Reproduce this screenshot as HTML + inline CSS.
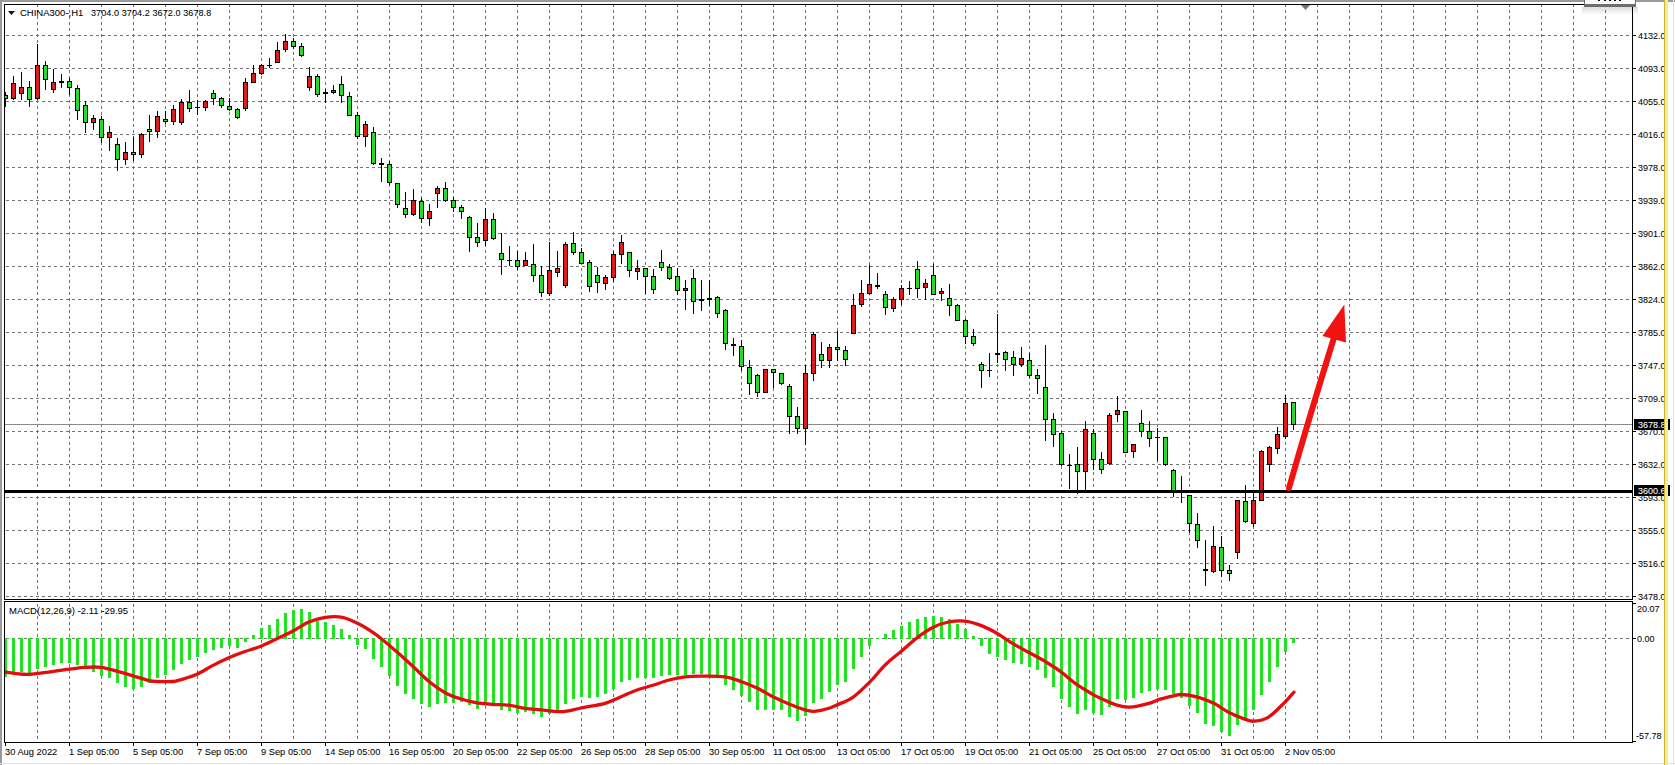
<!DOCTYPE html><html><head><meta charset="utf-8"><style>
html,body{margin:0;padding:0;background:#fff;width:1675px;height:765px;overflow:hidden}
svg{display:block}
text{font-family:"Liberation Sans", sans-serif;font-size:9px;fill:#000;stroke:#000;stroke-width:0.05px}
</style></head><body>
<svg width="1675" height="765" viewBox="0 0 1675 765">
<rect x="0" y="0" width="1675" height="765" fill="#ffffff"/>
<g shape-rendering="crispEdges">
<rect x="0" y="0" width="1675" height="2" fill="#9a9a9a"/>
<rect x="0" y="0" width="2" height="765" fill="#9a9a9a"/>
<rect x="0" y="763" width="1675" height="1" fill="#e4e4e4"/>
<rect x="1673" y="0" width="1" height="765" fill="#e4e4e4"/>
<defs><clipPath id="cm"><rect x="5" y="5" width="1627" height="594"/></clipPath>
<clipPath id="cd"><rect x="5" y="602" width="1627" height="140"/></clipPath>
<clipPath id="ca"><rect x="1633" y="0" width="31" height="765"/></clipPath></defs>
<g clip-path="url(#cm)">
<line x1="37.5" y1="4" x2="37.5" y2="599" stroke="#727272" stroke-width="1" stroke-dasharray="3 3"/>
<line x1="69.5" y1="4" x2="69.5" y2="599" stroke="#727272" stroke-width="1" stroke-dasharray="3 3"/>
<line x1="101.5" y1="4" x2="101.5" y2="599" stroke="#727272" stroke-width="1" stroke-dasharray="3 3"/>
<line x1="133.5" y1="4" x2="133.5" y2="599" stroke="#727272" stroke-width="1" stroke-dasharray="3 3"/>
<line x1="165.5" y1="4" x2="165.5" y2="599" stroke="#727272" stroke-width="1" stroke-dasharray="3 3"/>
<line x1="197.5" y1="4" x2="197.5" y2="599" stroke="#727272" stroke-width="1" stroke-dasharray="3 3"/>
<line x1="229.5" y1="4" x2="229.5" y2="599" stroke="#727272" stroke-width="1" stroke-dasharray="3 3"/>
<line x1="261.5" y1="4" x2="261.5" y2="599" stroke="#727272" stroke-width="1" stroke-dasharray="3 3"/>
<line x1="293.5" y1="4" x2="293.5" y2="599" stroke="#727272" stroke-width="1" stroke-dasharray="3 3"/>
<line x1="325.5" y1="4" x2="325.5" y2="599" stroke="#727272" stroke-width="1" stroke-dasharray="3 3"/>
<line x1="357.5" y1="4" x2="357.5" y2="599" stroke="#727272" stroke-width="1" stroke-dasharray="3 3"/>
<line x1="389.5" y1="4" x2="389.5" y2="599" stroke="#727272" stroke-width="1" stroke-dasharray="3 3"/>
<line x1="421.5" y1="4" x2="421.5" y2="599" stroke="#727272" stroke-width="1" stroke-dasharray="3 3"/>
<line x1="453.5" y1="4" x2="453.5" y2="599" stroke="#727272" stroke-width="1" stroke-dasharray="3 3"/>
<line x1="485.5" y1="4" x2="485.5" y2="599" stroke="#727272" stroke-width="1" stroke-dasharray="3 3"/>
<line x1="517.5" y1="4" x2="517.5" y2="599" stroke="#727272" stroke-width="1" stroke-dasharray="3 3"/>
<line x1="549.5" y1="4" x2="549.5" y2="599" stroke="#727272" stroke-width="1" stroke-dasharray="3 3"/>
<line x1="581.5" y1="4" x2="581.5" y2="599" stroke="#727272" stroke-width="1" stroke-dasharray="3 3"/>
<line x1="613.5" y1="4" x2="613.5" y2="599" stroke="#727272" stroke-width="1" stroke-dasharray="3 3"/>
<line x1="645.5" y1="4" x2="645.5" y2="599" stroke="#727272" stroke-width="1" stroke-dasharray="3 3"/>
<line x1="677.5" y1="4" x2="677.5" y2="599" stroke="#727272" stroke-width="1" stroke-dasharray="3 3"/>
<line x1="709.5" y1="4" x2="709.5" y2="599" stroke="#727272" stroke-width="1" stroke-dasharray="3 3"/>
<line x1="741.5" y1="4" x2="741.5" y2="599" stroke="#727272" stroke-width="1" stroke-dasharray="3 3"/>
<line x1="773.5" y1="4" x2="773.5" y2="599" stroke="#727272" stroke-width="1" stroke-dasharray="3 3"/>
<line x1="805.5" y1="4" x2="805.5" y2="599" stroke="#727272" stroke-width="1" stroke-dasharray="3 3"/>
<line x1="837.5" y1="4" x2="837.5" y2="599" stroke="#727272" stroke-width="1" stroke-dasharray="3 3"/>
<line x1="869.5" y1="4" x2="869.5" y2="599" stroke="#727272" stroke-width="1" stroke-dasharray="3 3"/>
<line x1="901.5" y1="4" x2="901.5" y2="599" stroke="#727272" stroke-width="1" stroke-dasharray="3 3"/>
<line x1="933.5" y1="4" x2="933.5" y2="599" stroke="#727272" stroke-width="1" stroke-dasharray="3 3"/>
<line x1="965.5" y1="4" x2="965.5" y2="599" stroke="#727272" stroke-width="1" stroke-dasharray="3 3"/>
<line x1="997.5" y1="4" x2="997.5" y2="599" stroke="#727272" stroke-width="1" stroke-dasharray="3 3"/>
<line x1="1029.5" y1="4" x2="1029.5" y2="599" stroke="#727272" stroke-width="1" stroke-dasharray="3 3"/>
<line x1="1061.5" y1="4" x2="1061.5" y2="599" stroke="#727272" stroke-width="1" stroke-dasharray="3 3"/>
<line x1="1093.5" y1="4" x2="1093.5" y2="599" stroke="#727272" stroke-width="1" stroke-dasharray="3 3"/>
<line x1="1125.5" y1="4" x2="1125.5" y2="599" stroke="#727272" stroke-width="1" stroke-dasharray="3 3"/>
<line x1="1157.5" y1="4" x2="1157.5" y2="599" stroke="#727272" stroke-width="1" stroke-dasharray="3 3"/>
<line x1="1189.5" y1="4" x2="1189.5" y2="599" stroke="#727272" stroke-width="1" stroke-dasharray="3 3"/>
<line x1="1221.5" y1="4" x2="1221.5" y2="599" stroke="#727272" stroke-width="1" stroke-dasharray="3 3"/>
<line x1="1253.5" y1="4" x2="1253.5" y2="599" stroke="#727272" stroke-width="1" stroke-dasharray="3 3"/>
<line x1="1285.5" y1="4" x2="1285.5" y2="599" stroke="#727272" stroke-width="1" stroke-dasharray="3 3"/>
<line x1="1317.5" y1="4" x2="1317.5" y2="599" stroke="#727272" stroke-width="1" stroke-dasharray="3 3"/>
<line x1="1349.5" y1="4" x2="1349.5" y2="599" stroke="#727272" stroke-width="1" stroke-dasharray="3 3"/>
<line x1="1381.5" y1="4" x2="1381.5" y2="599" stroke="#727272" stroke-width="1" stroke-dasharray="3 3"/>
<line x1="1413.5" y1="4" x2="1413.5" y2="599" stroke="#727272" stroke-width="1" stroke-dasharray="3 3"/>
<line x1="1445.5" y1="4" x2="1445.5" y2="599" stroke="#727272" stroke-width="1" stroke-dasharray="3 3"/>
<line x1="1477.5" y1="4" x2="1477.5" y2="599" stroke="#727272" stroke-width="1" stroke-dasharray="3 3"/>
<line x1="1509.5" y1="4" x2="1509.5" y2="599" stroke="#727272" stroke-width="1" stroke-dasharray="3 3"/>
<line x1="1541.5" y1="4" x2="1541.5" y2="599" stroke="#727272" stroke-width="1" stroke-dasharray="3 3"/>
<line x1="1573.5" y1="4" x2="1573.5" y2="599" stroke="#727272" stroke-width="1" stroke-dasharray="3 3"/>
<line x1="1605.5" y1="4" x2="1605.5" y2="599" stroke="#727272" stroke-width="1" stroke-dasharray="3 3"/>
<line x1="0" y1="35.5" x2="1632" y2="35.5" stroke="#727272" stroke-width="1" stroke-dasharray="3 3"/>
<line x1="0" y1="68.5" x2="1632" y2="68.5" stroke="#727272" stroke-width="1" stroke-dasharray="3 3"/>
<line x1="0" y1="101.5" x2="1632" y2="101.5" stroke="#727272" stroke-width="1" stroke-dasharray="3 3"/>
<line x1="0" y1="134.5" x2="1632" y2="134.5" stroke="#727272" stroke-width="1" stroke-dasharray="3 3"/>
<line x1="0" y1="167.5" x2="1632" y2="167.5" stroke="#727272" stroke-width="1" stroke-dasharray="3 3"/>
<line x1="0" y1="200.5" x2="1632" y2="200.5" stroke="#727272" stroke-width="1" stroke-dasharray="3 3"/>
<line x1="0" y1="233.5" x2="1632" y2="233.5" stroke="#727272" stroke-width="1" stroke-dasharray="3 3"/>
<line x1="0" y1="266.5" x2="1632" y2="266.5" stroke="#727272" stroke-width="1" stroke-dasharray="3 3"/>
<line x1="0" y1="299.5" x2="1632" y2="299.5" stroke="#727272" stroke-width="1" stroke-dasharray="3 3"/>
<line x1="0" y1="332.5" x2="1632" y2="332.5" stroke="#727272" stroke-width="1" stroke-dasharray="3 3"/>
<line x1="0" y1="365.5" x2="1632" y2="365.5" stroke="#727272" stroke-width="1" stroke-dasharray="3 3"/>
<line x1="0" y1="398.5" x2="1632" y2="398.5" stroke="#727272" stroke-width="1" stroke-dasharray="3 3"/>
<line x1="0" y1="431.5" x2="1632" y2="431.5" stroke="#727272" stroke-width="1" stroke-dasharray="3 3"/>
<line x1="0" y1="464.5" x2="1632" y2="464.5" stroke="#727272" stroke-width="1" stroke-dasharray="3 3"/>
<line x1="0" y1="497.5" x2="1632" y2="497.5" stroke="#727272" stroke-width="1" stroke-dasharray="3 3"/>
<line x1="0" y1="530.5" x2="1632" y2="530.5" stroke="#727272" stroke-width="1" stroke-dasharray="3 3"/>
<line x1="0" y1="563.5" x2="1632" y2="563.5" stroke="#727272" stroke-width="1" stroke-dasharray="3 3"/>
<line x1="0" y1="596.5" x2="1632" y2="596.5" stroke="#727272" stroke-width="1" stroke-dasharray="3 3"/>
</g>
<g clip-path="url(#cd)">
<line x1="37.5" y1="592" x2="37.5" y2="742" stroke="#727272" stroke-width="1" stroke-dasharray="3 3"/>
<line x1="69.5" y1="592" x2="69.5" y2="742" stroke="#727272" stroke-width="1" stroke-dasharray="3 3"/>
<line x1="101.5" y1="592" x2="101.5" y2="742" stroke="#727272" stroke-width="1" stroke-dasharray="3 3"/>
<line x1="133.5" y1="592" x2="133.5" y2="742" stroke="#727272" stroke-width="1" stroke-dasharray="3 3"/>
<line x1="165.5" y1="592" x2="165.5" y2="742" stroke="#727272" stroke-width="1" stroke-dasharray="3 3"/>
<line x1="197.5" y1="592" x2="197.5" y2="742" stroke="#727272" stroke-width="1" stroke-dasharray="3 3"/>
<line x1="229.5" y1="592" x2="229.5" y2="742" stroke="#727272" stroke-width="1" stroke-dasharray="3 3"/>
<line x1="261.5" y1="592" x2="261.5" y2="742" stroke="#727272" stroke-width="1" stroke-dasharray="3 3"/>
<line x1="293.5" y1="592" x2="293.5" y2="742" stroke="#727272" stroke-width="1" stroke-dasharray="3 3"/>
<line x1="325.5" y1="592" x2="325.5" y2="742" stroke="#727272" stroke-width="1" stroke-dasharray="3 3"/>
<line x1="357.5" y1="592" x2="357.5" y2="742" stroke="#727272" stroke-width="1" stroke-dasharray="3 3"/>
<line x1="389.5" y1="592" x2="389.5" y2="742" stroke="#727272" stroke-width="1" stroke-dasharray="3 3"/>
<line x1="421.5" y1="592" x2="421.5" y2="742" stroke="#727272" stroke-width="1" stroke-dasharray="3 3"/>
<line x1="453.5" y1="592" x2="453.5" y2="742" stroke="#727272" stroke-width="1" stroke-dasharray="3 3"/>
<line x1="485.5" y1="592" x2="485.5" y2="742" stroke="#727272" stroke-width="1" stroke-dasharray="3 3"/>
<line x1="517.5" y1="592" x2="517.5" y2="742" stroke="#727272" stroke-width="1" stroke-dasharray="3 3"/>
<line x1="549.5" y1="592" x2="549.5" y2="742" stroke="#727272" stroke-width="1" stroke-dasharray="3 3"/>
<line x1="581.5" y1="592" x2="581.5" y2="742" stroke="#727272" stroke-width="1" stroke-dasharray="3 3"/>
<line x1="613.5" y1="592" x2="613.5" y2="742" stroke="#727272" stroke-width="1" stroke-dasharray="3 3"/>
<line x1="645.5" y1="592" x2="645.5" y2="742" stroke="#727272" stroke-width="1" stroke-dasharray="3 3"/>
<line x1="677.5" y1="592" x2="677.5" y2="742" stroke="#727272" stroke-width="1" stroke-dasharray="3 3"/>
<line x1="709.5" y1="592" x2="709.5" y2="742" stroke="#727272" stroke-width="1" stroke-dasharray="3 3"/>
<line x1="741.5" y1="592" x2="741.5" y2="742" stroke="#727272" stroke-width="1" stroke-dasharray="3 3"/>
<line x1="773.5" y1="592" x2="773.5" y2="742" stroke="#727272" stroke-width="1" stroke-dasharray="3 3"/>
<line x1="805.5" y1="592" x2="805.5" y2="742" stroke="#727272" stroke-width="1" stroke-dasharray="3 3"/>
<line x1="837.5" y1="592" x2="837.5" y2="742" stroke="#727272" stroke-width="1" stroke-dasharray="3 3"/>
<line x1="869.5" y1="592" x2="869.5" y2="742" stroke="#727272" stroke-width="1" stroke-dasharray="3 3"/>
<line x1="901.5" y1="592" x2="901.5" y2="742" stroke="#727272" stroke-width="1" stroke-dasharray="3 3"/>
<line x1="933.5" y1="592" x2="933.5" y2="742" stroke="#727272" stroke-width="1" stroke-dasharray="3 3"/>
<line x1="965.5" y1="592" x2="965.5" y2="742" stroke="#727272" stroke-width="1" stroke-dasharray="3 3"/>
<line x1="997.5" y1="592" x2="997.5" y2="742" stroke="#727272" stroke-width="1" stroke-dasharray="3 3"/>
<line x1="1029.5" y1="592" x2="1029.5" y2="742" stroke="#727272" stroke-width="1" stroke-dasharray="3 3"/>
<line x1="1061.5" y1="592" x2="1061.5" y2="742" stroke="#727272" stroke-width="1" stroke-dasharray="3 3"/>
<line x1="1093.5" y1="592" x2="1093.5" y2="742" stroke="#727272" stroke-width="1" stroke-dasharray="3 3"/>
<line x1="1125.5" y1="592" x2="1125.5" y2="742" stroke="#727272" stroke-width="1" stroke-dasharray="3 3"/>
<line x1="1157.5" y1="592" x2="1157.5" y2="742" stroke="#727272" stroke-width="1" stroke-dasharray="3 3"/>
<line x1="1189.5" y1="592" x2="1189.5" y2="742" stroke="#727272" stroke-width="1" stroke-dasharray="3 3"/>
<line x1="1221.5" y1="592" x2="1221.5" y2="742" stroke="#727272" stroke-width="1" stroke-dasharray="3 3"/>
<line x1="1253.5" y1="592" x2="1253.5" y2="742" stroke="#727272" stroke-width="1" stroke-dasharray="3 3"/>
<line x1="1285.5" y1="592" x2="1285.5" y2="742" stroke="#727272" stroke-width="1" stroke-dasharray="3 3"/>
<line x1="1317.5" y1="592" x2="1317.5" y2="742" stroke="#727272" stroke-width="1" stroke-dasharray="3 3"/>
<line x1="1349.5" y1="592" x2="1349.5" y2="742" stroke="#727272" stroke-width="1" stroke-dasharray="3 3"/>
<line x1="1381.5" y1="592" x2="1381.5" y2="742" stroke="#727272" stroke-width="1" stroke-dasharray="3 3"/>
<line x1="1413.5" y1="592" x2="1413.5" y2="742" stroke="#727272" stroke-width="1" stroke-dasharray="3 3"/>
<line x1="1445.5" y1="592" x2="1445.5" y2="742" stroke="#727272" stroke-width="1" stroke-dasharray="3 3"/>
<line x1="1477.5" y1="592" x2="1477.5" y2="742" stroke="#727272" stroke-width="1" stroke-dasharray="3 3"/>
<line x1="1509.5" y1="592" x2="1509.5" y2="742" stroke="#727272" stroke-width="1" stroke-dasharray="3 3"/>
<line x1="1541.5" y1="592" x2="1541.5" y2="742" stroke="#727272" stroke-width="1" stroke-dasharray="3 3"/>
<line x1="1573.5" y1="592" x2="1573.5" y2="742" stroke="#727272" stroke-width="1" stroke-dasharray="3 3"/>
<line x1="1605.5" y1="592" x2="1605.5" y2="742" stroke="#727272" stroke-width="1" stroke-dasharray="3 3"/>
<line x1="0" y1="638.5" x2="1632" y2="638.5" stroke="#727272" stroke-width="1" stroke-dasharray="3 3"/>
</g>
<rect x="5" y="424" width="1627" height="1" fill="#8a8a8a"/>
<g clip-path="url(#cm)">
<rect x="5" y="92" width="1" height="15" fill="#000"/>
<rect x="3" y="95" width="5" height="4" fill="#000"/>
<rect x="4" y="96" width="3" height="2" fill="#24e024"/>
<rect x="13" y="76" width="1" height="24" fill="#000"/>
<rect x="11" y="83" width="5" height="16" fill="#000"/>
<rect x="12" y="84" width="3" height="14" fill="#e11a1a"/>
<rect x="21" y="72" width="1" height="28" fill="#000"/>
<rect x="19" y="87" width="5" height="7" fill="#000"/>
<rect x="20" y="88" width="3" height="5" fill="#e11a1a"/>
<rect x="29" y="81" width="1" height="26" fill="#000"/>
<rect x="27" y="87" width="5" height="13" fill="#000"/>
<rect x="28" y="88" width="3" height="11" fill="#24e024"/>
<rect x="37" y="44" width="1" height="56" fill="#000"/>
<rect x="35" y="65" width="5" height="34" fill="#000"/>
<rect x="36" y="66" width="3" height="32" fill="#e11a1a"/>
<rect x="45" y="61" width="1" height="29" fill="#000"/>
<rect x="43" y="65" width="5" height="15" fill="#000"/>
<rect x="44" y="66" width="3" height="13" fill="#24e024"/>
<rect x="53" y="69" width="1" height="24" fill="#000"/>
<rect x="51" y="82" width="5" height="8" fill="#000"/>
<rect x="52" y="83" width="3" height="6" fill="#e11a1a"/>
<rect x="61" y="74" width="1" height="14" fill="#000"/>
<rect x="59" y="81" width="5" height="2" fill="#000"/>
<rect x="69" y="78" width="1" height="17" fill="#000"/>
<rect x="67" y="81" width="5" height="7" fill="#000"/>
<rect x="68" y="82" width="3" height="5" fill="#24e024"/>
<rect x="77" y="85" width="1" height="35" fill="#000"/>
<rect x="75" y="88" width="5" height="23" fill="#000"/>
<rect x="76" y="89" width="3" height="21" fill="#24e024"/>
<rect x="85" y="101" width="1" height="32" fill="#000"/>
<rect x="83" y="105" width="5" height="18" fill="#000"/>
<rect x="84" y="106" width="3" height="16" fill="#24e024"/>
<rect x="93" y="115" width="1" height="15" fill="#000"/>
<rect x="91" y="118" width="5" height="5" fill="#000"/>
<rect x="92" y="119" width="3" height="3" fill="#e11a1a"/>
<rect x="101" y="116" width="1" height="27" fill="#000"/>
<rect x="99" y="119" width="5" height="19" fill="#000"/>
<rect x="100" y="120" width="3" height="17" fill="#24e024"/>
<rect x="109" y="126" width="1" height="25" fill="#000"/>
<rect x="107" y="132" width="5" height="6" fill="#000"/>
<rect x="108" y="133" width="3" height="4" fill="#e11a1a"/>
<rect x="117" y="138" width="1" height="33" fill="#000"/>
<rect x="115" y="144" width="5" height="16" fill="#000"/>
<rect x="116" y="145" width="3" height="14" fill="#24e024"/>
<rect x="125" y="142" width="1" height="23" fill="#000"/>
<rect x="123" y="152" width="5" height="8" fill="#000"/>
<rect x="124" y="153" width="3" height="6" fill="#e11a1a"/>
<rect x="133" y="137" width="1" height="24" fill="#000"/>
<rect x="131" y="152" width="5" height="3" fill="#000"/>
<rect x="132" y="153" width="3" height="1" fill="#24e024"/>
<rect x="141" y="133" width="1" height="25" fill="#000"/>
<rect x="139" y="134" width="5" height="21" fill="#000"/>
<rect x="140" y="135" width="3" height="19" fill="#e11a1a"/>
<rect x="149" y="115" width="1" height="27" fill="#000"/>
<rect x="147" y="129" width="5" height="3" fill="#000"/>
<rect x="148" y="130" width="3" height="1" fill="#24e024"/>
<rect x="157" y="111" width="1" height="27" fill="#000"/>
<rect x="155" y="116" width="5" height="16" fill="#000"/>
<rect x="156" y="117" width="3" height="14" fill="#e11a1a"/>
<rect x="165" y="111" width="1" height="13" fill="#000"/>
<rect x="163" y="119" width="5" height="3" fill="#000"/>
<rect x="164" y="120" width="3" height="1" fill="#24e024"/>
<rect x="173" y="105" width="1" height="20" fill="#000"/>
<rect x="171" y="109" width="5" height="13" fill="#000"/>
<rect x="172" y="110" width="3" height="11" fill="#e11a1a"/>
<rect x="181" y="99" width="1" height="26" fill="#000"/>
<rect x="179" y="102" width="5" height="21" fill="#000"/>
<rect x="180" y="103" width="3" height="19" fill="#e11a1a"/>
<rect x="189" y="90" width="1" height="22" fill="#000"/>
<rect x="187" y="102" width="5" height="7" fill="#000"/>
<rect x="188" y="103" width="3" height="5" fill="#24e024"/>
<rect x="197" y="100" width="1" height="15" fill="#000"/>
<rect x="195" y="107" width="5" height="1" fill="#000"/>
<rect x="205" y="100" width="1" height="11" fill="#000"/>
<rect x="203" y="101" width="5" height="7" fill="#000"/>
<rect x="204" y="102" width="3" height="5" fill="#e11a1a"/>
<rect x="213" y="90" width="1" height="15" fill="#000"/>
<rect x="211" y="93" width="5" height="6" fill="#000"/>
<rect x="212" y="94" width="3" height="4" fill="#24e024"/>
<rect x="221" y="97" width="1" height="11" fill="#000"/>
<rect x="219" y="98" width="5" height="8" fill="#000"/>
<rect x="220" y="99" width="3" height="6" fill="#24e024"/>
<rect x="229" y="98" width="1" height="13" fill="#000"/>
<rect x="227" y="106" width="5" height="4" fill="#000"/>
<rect x="228" y="107" width="3" height="2" fill="#24e024"/>
<rect x="237" y="108" width="1" height="11" fill="#000"/>
<rect x="235" y="109" width="5" height="9" fill="#000"/>
<rect x="236" y="110" width="3" height="7" fill="#24e024"/>
<rect x="245" y="78" width="1" height="33" fill="#000"/>
<rect x="243" y="82" width="5" height="27" fill="#000"/>
<rect x="244" y="83" width="3" height="25" fill="#e11a1a"/>
<rect x="253" y="65" width="1" height="18" fill="#000"/>
<rect x="251" y="73" width="5" height="10" fill="#000"/>
<rect x="252" y="74" width="3" height="8" fill="#e11a1a"/>
<rect x="261" y="64" width="1" height="11" fill="#000"/>
<rect x="259" y="65" width="5" height="9" fill="#000"/>
<rect x="260" y="66" width="3" height="7" fill="#e11a1a"/>
<rect x="269" y="58" width="1" height="10" fill="#000"/>
<rect x="267" y="65" width="5" height="1" fill="#000"/>
<rect x="277" y="42" width="1" height="21" fill="#000"/>
<rect x="275" y="50" width="5" height="13" fill="#000"/>
<rect x="276" y="51" width="3" height="11" fill="#e11a1a"/>
<rect x="285" y="34" width="1" height="18" fill="#000"/>
<rect x="283" y="41" width="5" height="9" fill="#000"/>
<rect x="284" y="42" width="3" height="7" fill="#e11a1a"/>
<rect x="293" y="38" width="1" height="11" fill="#000"/>
<rect x="291" y="41" width="5" height="6" fill="#000"/>
<rect x="292" y="42" width="3" height="4" fill="#24e024"/>
<rect x="301" y="43" width="1" height="14" fill="#000"/>
<rect x="299" y="46" width="5" height="10" fill="#000"/>
<rect x="300" y="47" width="3" height="8" fill="#24e024"/>
<rect x="309" y="67" width="1" height="24" fill="#000"/>
<rect x="307" y="76" width="5" height="12" fill="#000"/>
<rect x="308" y="77" width="3" height="10" fill="#e11a1a"/>
<rect x="317" y="74" width="1" height="23" fill="#000"/>
<rect x="315" y="76" width="5" height="19" fill="#000"/>
<rect x="316" y="77" width="3" height="17" fill="#24e024"/>
<rect x="325" y="89" width="1" height="14" fill="#000"/>
<rect x="323" y="92" width="5" height="2" fill="#000"/>
<rect x="333" y="85" width="1" height="9" fill="#000"/>
<rect x="331" y="90" width="5" height="3" fill="#000"/>
<rect x="332" y="91" width="3" height="1" fill="#e11a1a"/>
<rect x="341" y="76" width="1" height="27" fill="#000"/>
<rect x="339" y="84" width="5" height="12" fill="#000"/>
<rect x="340" y="85" width="3" height="10" fill="#24e024"/>
<rect x="349" y="92" width="1" height="24" fill="#000"/>
<rect x="347" y="96" width="5" height="20" fill="#000"/>
<rect x="348" y="97" width="3" height="18" fill="#24e024"/>
<rect x="357" y="112" width="1" height="27" fill="#000"/>
<rect x="355" y="115" width="5" height="22" fill="#000"/>
<rect x="356" y="116" width="3" height="20" fill="#24e024"/>
<rect x="365" y="121" width="1" height="26" fill="#000"/>
<rect x="363" y="124" width="5" height="13" fill="#000"/>
<rect x="364" y="125" width="3" height="11" fill="#e11a1a"/>
<rect x="373" y="127" width="1" height="38" fill="#000"/>
<rect x="371" y="132" width="5" height="32" fill="#000"/>
<rect x="372" y="133" width="3" height="30" fill="#24e024"/>
<rect x="381" y="158" width="1" height="24" fill="#000"/>
<rect x="379" y="163" width="5" height="2" fill="#000"/>
<rect x="389" y="161" width="1" height="24" fill="#000"/>
<rect x="387" y="164" width="5" height="19" fill="#000"/>
<rect x="388" y="165" width="3" height="17" fill="#24e024"/>
<rect x="397" y="183" width="1" height="25" fill="#000"/>
<rect x="395" y="183" width="5" height="22" fill="#000"/>
<rect x="396" y="184" width="3" height="20" fill="#24e024"/>
<rect x="405" y="192" width="1" height="26" fill="#000"/>
<rect x="403" y="208" width="5" height="7" fill="#000"/>
<rect x="404" y="209" width="3" height="5" fill="#24e024"/>
<rect x="413" y="189" width="1" height="27" fill="#000"/>
<rect x="411" y="200" width="5" height="15" fill="#000"/>
<rect x="412" y="201" width="3" height="13" fill="#e11a1a"/>
<rect x="421" y="198" width="1" height="25" fill="#000"/>
<rect x="419" y="201" width="5" height="18" fill="#000"/>
<rect x="420" y="202" width="3" height="16" fill="#24e024"/>
<rect x="429" y="204" width="1" height="22" fill="#000"/>
<rect x="427" y="211" width="5" height="8" fill="#000"/>
<rect x="428" y="212" width="3" height="6" fill="#e11a1a"/>
<rect x="437" y="186" width="1" height="22" fill="#000"/>
<rect x="435" y="188" width="5" height="6" fill="#000"/>
<rect x="436" y="189" width="3" height="4" fill="#e11a1a"/>
<rect x="445" y="182" width="1" height="20" fill="#000"/>
<rect x="443" y="188" width="5" height="13" fill="#000"/>
<rect x="444" y="189" width="3" height="11" fill="#24e024"/>
<rect x="453" y="197" width="1" height="15" fill="#000"/>
<rect x="451" y="200" width="5" height="8" fill="#000"/>
<rect x="452" y="201" width="3" height="6" fill="#24e024"/>
<rect x="461" y="205" width="1" height="14" fill="#000"/>
<rect x="459" y="207" width="5" height="5" fill="#000"/>
<rect x="460" y="208" width="3" height="3" fill="#24e024"/>
<rect x="469" y="216" width="1" height="36" fill="#000"/>
<rect x="467" y="217" width="5" height="21" fill="#000"/>
<rect x="468" y="218" width="3" height="19" fill="#24e024"/>
<rect x="477" y="223" width="1" height="24" fill="#000"/>
<rect x="475" y="237" width="5" height="6" fill="#000"/>
<rect x="476" y="238" width="3" height="4" fill="#24e024"/>
<rect x="485" y="208" width="1" height="38" fill="#000"/>
<rect x="483" y="219" width="5" height="22" fill="#000"/>
<rect x="484" y="220" width="3" height="20" fill="#e11a1a"/>
<rect x="493" y="213" width="1" height="27" fill="#000"/>
<rect x="491" y="219" width="5" height="20" fill="#000"/>
<rect x="492" y="220" width="3" height="18" fill="#24e024"/>
<rect x="501" y="233" width="1" height="42" fill="#000"/>
<rect x="499" y="253" width="5" height="7" fill="#000"/>
<rect x="500" y="254" width="3" height="5" fill="#24e024"/>
<rect x="509" y="246" width="1" height="20" fill="#000"/>
<rect x="507" y="260" width="5" height="1" fill="#000"/>
<rect x="517" y="251" width="1" height="19" fill="#000"/>
<rect x="515" y="260" width="5" height="7" fill="#000"/>
<rect x="516" y="261" width="3" height="5" fill="#24e024"/>
<rect x="525" y="252" width="1" height="14" fill="#000"/>
<rect x="523" y="260" width="5" height="6" fill="#000"/>
<rect x="524" y="261" width="3" height="4" fill="#e11a1a"/>
<rect x="533" y="244" width="1" height="38" fill="#000"/>
<rect x="531" y="264" width="5" height="12" fill="#000"/>
<rect x="532" y="265" width="3" height="10" fill="#24e024"/>
<rect x="541" y="266" width="1" height="31" fill="#000"/>
<rect x="539" y="275" width="5" height="18" fill="#000"/>
<rect x="540" y="276" width="3" height="16" fill="#24e024"/>
<rect x="549" y="242" width="1" height="54" fill="#000"/>
<rect x="547" y="270" width="5" height="24" fill="#000"/>
<rect x="548" y="271" width="3" height="22" fill="#e11a1a"/>
<rect x="557" y="251" width="1" height="26" fill="#000"/>
<rect x="555" y="268" width="5" height="5" fill="#000"/>
<rect x="556" y="269" width="3" height="3" fill="#e11a1a"/>
<rect x="565" y="242" width="1" height="46" fill="#000"/>
<rect x="563" y="244" width="5" height="42" fill="#000"/>
<rect x="564" y="245" width="3" height="40" fill="#e11a1a"/>
<rect x="573" y="232" width="1" height="23" fill="#000"/>
<rect x="571" y="243" width="5" height="10" fill="#000"/>
<rect x="572" y="244" width="3" height="8" fill="#24e024"/>
<rect x="581" y="248" width="1" height="16" fill="#000"/>
<rect x="579" y="252" width="5" height="12" fill="#000"/>
<rect x="580" y="253" width="3" height="10" fill="#24e024"/>
<rect x="589" y="260" width="1" height="32" fill="#000"/>
<rect x="587" y="262" width="5" height="25" fill="#000"/>
<rect x="588" y="263" width="3" height="23" fill="#24e024"/>
<rect x="597" y="267" width="1" height="26" fill="#000"/>
<rect x="595" y="275" width="5" height="8" fill="#000"/>
<rect x="596" y="276" width="3" height="6" fill="#24e024"/>
<rect x="605" y="275" width="1" height="15" fill="#000"/>
<rect x="603" y="277" width="5" height="7" fill="#000"/>
<rect x="604" y="278" width="3" height="5" fill="#e11a1a"/>
<rect x="613" y="251" width="1" height="31" fill="#000"/>
<rect x="611" y="254" width="5" height="24" fill="#000"/>
<rect x="612" y="255" width="3" height="22" fill="#e11a1a"/>
<rect x="621" y="235" width="1" height="29" fill="#000"/>
<rect x="619" y="242" width="5" height="13" fill="#000"/>
<rect x="620" y="243" width="3" height="11" fill="#e11a1a"/>
<rect x="629" y="252" width="1" height="25" fill="#000"/>
<rect x="627" y="252" width="5" height="19" fill="#000"/>
<rect x="628" y="253" width="3" height="17" fill="#24e024"/>
<rect x="637" y="260" width="1" height="20" fill="#000"/>
<rect x="635" y="268" width="5" height="4" fill="#000"/>
<rect x="636" y="269" width="3" height="2" fill="#e11a1a"/>
<rect x="645" y="268" width="1" height="26" fill="#000"/>
<rect x="643" y="268" width="5" height="9" fill="#000"/>
<rect x="644" y="269" width="3" height="7" fill="#24e024"/>
<rect x="653" y="269" width="1" height="25" fill="#000"/>
<rect x="651" y="276" width="5" height="14" fill="#000"/>
<rect x="652" y="277" width="3" height="12" fill="#24e024"/>
<rect x="661" y="250" width="1" height="21" fill="#000"/>
<rect x="659" y="262" width="5" height="6" fill="#000"/>
<rect x="660" y="263" width="3" height="4" fill="#24e024"/>
<rect x="669" y="264" width="1" height="16" fill="#000"/>
<rect x="667" y="267" width="5" height="12" fill="#000"/>
<rect x="668" y="268" width="3" height="10" fill="#24e024"/>
<rect x="677" y="268" width="1" height="27" fill="#000"/>
<rect x="675" y="276" width="5" height="15" fill="#000"/>
<rect x="676" y="277" width="3" height="13" fill="#24e024"/>
<rect x="685" y="280" width="1" height="30" fill="#000"/>
<rect x="683" y="288" width="5" height="3" fill="#000"/>
<rect x="684" y="289" width="3" height="1" fill="#e11a1a"/>
<rect x="693" y="269" width="1" height="45" fill="#000"/>
<rect x="691" y="278" width="5" height="24" fill="#000"/>
<rect x="692" y="279" width="3" height="22" fill="#24e024"/>
<rect x="701" y="280" width="1" height="31" fill="#000"/>
<rect x="699" y="299" width="5" height="2" fill="#000"/>
<rect x="709" y="280" width="1" height="26" fill="#000"/>
<rect x="707" y="298" width="5" height="2" fill="#000"/>
<rect x="717" y="296" width="1" height="22" fill="#000"/>
<rect x="715" y="297" width="5" height="17" fill="#000"/>
<rect x="716" y="298" width="3" height="15" fill="#24e024"/>
<rect x="725" y="309" width="1" height="41" fill="#000"/>
<rect x="723" y="310" width="5" height="34" fill="#000"/>
<rect x="724" y="311" width="3" height="32" fill="#24e024"/>
<rect x="733" y="338" width="1" height="18" fill="#000"/>
<rect x="731" y="344" width="5" height="2" fill="#000"/>
<rect x="741" y="340" width="1" height="31" fill="#000"/>
<rect x="739" y="346" width="5" height="21" fill="#000"/>
<rect x="740" y="347" width="3" height="19" fill="#24e024"/>
<rect x="749" y="360" width="1" height="35" fill="#000"/>
<rect x="747" y="367" width="5" height="17" fill="#000"/>
<rect x="748" y="368" width="3" height="15" fill="#24e024"/>
<rect x="757" y="374" width="1" height="23" fill="#000"/>
<rect x="755" y="375" width="5" height="18" fill="#000"/>
<rect x="756" y="376" width="3" height="16" fill="#24e024"/>
<rect x="765" y="369" width="1" height="24" fill="#000"/>
<rect x="763" y="369" width="5" height="24" fill="#000"/>
<rect x="764" y="370" width="3" height="22" fill="#e11a1a"/>
<rect x="773" y="369" width="1" height="19" fill="#000"/>
<rect x="771" y="369" width="5" height="4" fill="#000"/>
<rect x="772" y="370" width="3" height="2" fill="#24e024"/>
<rect x="781" y="373" width="1" height="12" fill="#000"/>
<rect x="779" y="373" width="5" height="11" fill="#000"/>
<rect x="780" y="374" width="3" height="9" fill="#24e024"/>
<rect x="789" y="384" width="1" height="50" fill="#000"/>
<rect x="787" y="386" width="5" height="31" fill="#000"/>
<rect x="788" y="387" width="3" height="29" fill="#24e024"/>
<rect x="797" y="407" width="1" height="27" fill="#000"/>
<rect x="795" y="416" width="5" height="13" fill="#000"/>
<rect x="796" y="417" width="3" height="11" fill="#24e024"/>
<rect x="805" y="365" width="1" height="80" fill="#000"/>
<rect x="803" y="373" width="5" height="56" fill="#000"/>
<rect x="804" y="374" width="3" height="54" fill="#e11a1a"/>
<rect x="813" y="332" width="1" height="49" fill="#000"/>
<rect x="811" y="334" width="5" height="40" fill="#000"/>
<rect x="812" y="335" width="3" height="38" fill="#e11a1a"/>
<rect x="821" y="342" width="1" height="26" fill="#000"/>
<rect x="819" y="354" width="5" height="7" fill="#000"/>
<rect x="820" y="355" width="3" height="5" fill="#24e024"/>
<rect x="829" y="344" width="1" height="24" fill="#000"/>
<rect x="827" y="347" width="5" height="14" fill="#000"/>
<rect x="828" y="348" width="3" height="12" fill="#e11a1a"/>
<rect x="837" y="331" width="1" height="30" fill="#000"/>
<rect x="835" y="347" width="5" height="3" fill="#000"/>
<rect x="836" y="348" width="3" height="1" fill="#24e024"/>
<rect x="845" y="346" width="1" height="20" fill="#000"/>
<rect x="843" y="350" width="5" height="10" fill="#000"/>
<rect x="844" y="351" width="3" height="8" fill="#24e024"/>
<rect x="853" y="294" width="1" height="40" fill="#000"/>
<rect x="851" y="305" width="5" height="29" fill="#000"/>
<rect x="852" y="306" width="3" height="27" fill="#e11a1a"/>
<rect x="861" y="280" width="1" height="27" fill="#000"/>
<rect x="859" y="293" width="5" height="12" fill="#000"/>
<rect x="860" y="294" width="3" height="10" fill="#e11a1a"/>
<rect x="869" y="265" width="1" height="30" fill="#000"/>
<rect x="867" y="284" width="5" height="10" fill="#000"/>
<rect x="868" y="285" width="3" height="8" fill="#e11a1a"/>
<rect x="877" y="273" width="1" height="16" fill="#000"/>
<rect x="875" y="285" width="5" height="2" fill="#000"/>
<rect x="885" y="291" width="1" height="24" fill="#000"/>
<rect x="883" y="294" width="5" height="14" fill="#000"/>
<rect x="884" y="295" width="3" height="12" fill="#24e024"/>
<rect x="893" y="297" width="1" height="15" fill="#000"/>
<rect x="891" y="299" width="5" height="10" fill="#000"/>
<rect x="892" y="300" width="3" height="8" fill="#e11a1a"/>
<rect x="901" y="285" width="1" height="20" fill="#000"/>
<rect x="899" y="288" width="5" height="12" fill="#000"/>
<rect x="900" y="289" width="3" height="10" fill="#e11a1a"/>
<rect x="909" y="281" width="1" height="14" fill="#000"/>
<rect x="907" y="288" width="5" height="1" fill="#000"/>
<rect x="917" y="261" width="1" height="37" fill="#000"/>
<rect x="915" y="269" width="5" height="20" fill="#000"/>
<rect x="916" y="270" width="3" height="18" fill="#24e024"/>
<rect x="925" y="279" width="1" height="21" fill="#000"/>
<rect x="923" y="283" width="5" height="5" fill="#000"/>
<rect x="924" y="284" width="3" height="3" fill="#e11a1a"/>
<rect x="933" y="264" width="1" height="31" fill="#000"/>
<rect x="931" y="275" width="5" height="20" fill="#000"/>
<rect x="932" y="276" width="3" height="18" fill="#24e024"/>
<rect x="941" y="288" width="1" height="13" fill="#000"/>
<rect x="939" y="291" width="5" height="3" fill="#000"/>
<rect x="940" y="292" width="3" height="1" fill="#e11a1a"/>
<rect x="949" y="284" width="1" height="32" fill="#000"/>
<rect x="947" y="298" width="5" height="8" fill="#000"/>
<rect x="948" y="299" width="3" height="6" fill="#24e024"/>
<rect x="957" y="304" width="1" height="17" fill="#000"/>
<rect x="955" y="305" width="5" height="16" fill="#000"/>
<rect x="956" y="306" width="3" height="14" fill="#24e024"/>
<rect x="965" y="319" width="1" height="25" fill="#000"/>
<rect x="963" y="320" width="5" height="17" fill="#000"/>
<rect x="964" y="321" width="3" height="15" fill="#24e024"/>
<rect x="973" y="329" width="1" height="17" fill="#000"/>
<rect x="971" y="336" width="5" height="8" fill="#000"/>
<rect x="972" y="337" width="3" height="6" fill="#24e024"/>
<rect x="981" y="362" width="1" height="26" fill="#000"/>
<rect x="979" y="364" width="5" height="7" fill="#000"/>
<rect x="980" y="365" width="3" height="5" fill="#24e024"/>
<rect x="989" y="353" width="1" height="24" fill="#000"/>
<rect x="987" y="370" width="5" height="1" fill="#000"/>
<rect x="997" y="314" width="1" height="49" fill="#000"/>
<rect x="995" y="353" width="5" height="2" fill="#000"/>
<rect x="1005" y="351" width="1" height="20" fill="#000"/>
<rect x="1003" y="352" width="5" height="8" fill="#000"/>
<rect x="1004" y="353" width="3" height="6" fill="#24e024"/>
<rect x="1013" y="351" width="1" height="25" fill="#000"/>
<rect x="1011" y="357" width="5" height="8" fill="#000"/>
<rect x="1012" y="358" width="3" height="6" fill="#24e024"/>
<rect x="1021" y="347" width="1" height="20" fill="#000"/>
<rect x="1019" y="358" width="5" height="7" fill="#000"/>
<rect x="1020" y="359" width="3" height="5" fill="#e11a1a"/>
<rect x="1029" y="353" width="1" height="25" fill="#000"/>
<rect x="1027" y="360" width="5" height="16" fill="#000"/>
<rect x="1028" y="361" width="3" height="14" fill="#24e024"/>
<rect x="1037" y="369" width="1" height="25" fill="#000"/>
<rect x="1035" y="375" width="5" height="4" fill="#000"/>
<rect x="1036" y="376" width="3" height="2" fill="#24e024"/>
<rect x="1045" y="345" width="1" height="96" fill="#000"/>
<rect x="1043" y="387" width="5" height="33" fill="#000"/>
<rect x="1044" y="388" width="3" height="31" fill="#24e024"/>
<rect x="1053" y="413" width="1" height="34" fill="#000"/>
<rect x="1051" y="419" width="5" height="16" fill="#000"/>
<rect x="1052" y="420" width="3" height="14" fill="#24e024"/>
<rect x="1061" y="431" width="1" height="35" fill="#000"/>
<rect x="1059" y="433" width="5" height="32" fill="#000"/>
<rect x="1060" y="434" width="3" height="30" fill="#24e024"/>
<rect x="1069" y="454" width="1" height="35" fill="#000"/>
<rect x="1067" y="465" width="5" height="1" fill="#000"/>
<rect x="1077" y="447" width="1" height="47" fill="#000"/>
<rect x="1075" y="464" width="5" height="8" fill="#000"/>
<rect x="1076" y="465" width="3" height="6" fill="#24e024"/>
<rect x="1085" y="421" width="1" height="69" fill="#000"/>
<rect x="1083" y="429" width="5" height="43" fill="#000"/>
<rect x="1084" y="430" width="3" height="41" fill="#e11a1a"/>
<rect x="1093" y="429" width="1" height="41" fill="#000"/>
<rect x="1091" y="433" width="5" height="27" fill="#000"/>
<rect x="1092" y="434" width="3" height="25" fill="#24e024"/>
<rect x="1101" y="452" width="1" height="22" fill="#000"/>
<rect x="1099" y="459" width="5" height="11" fill="#000"/>
<rect x="1100" y="460" width="3" height="9" fill="#24e024"/>
<rect x="1109" y="413" width="1" height="52" fill="#000"/>
<rect x="1107" y="415" width="5" height="49" fill="#000"/>
<rect x="1108" y="416" width="3" height="47" fill="#e11a1a"/>
<rect x="1117" y="396" width="1" height="26" fill="#000"/>
<rect x="1115" y="410" width="5" height="5" fill="#000"/>
<rect x="1116" y="411" width="3" height="3" fill="#e11a1a"/>
<rect x="1125" y="411" width="1" height="42" fill="#000"/>
<rect x="1123" y="411" width="5" height="42" fill="#000"/>
<rect x="1124" y="412" width="3" height="40" fill="#24e024"/>
<rect x="1133" y="444" width="1" height="14" fill="#000"/>
<rect x="1131" y="444" width="5" height="8" fill="#000"/>
<rect x="1132" y="445" width="3" height="6" fill="#e11a1a"/>
<rect x="1141" y="410" width="1" height="27" fill="#000"/>
<rect x="1139" y="423" width="5" height="9" fill="#000"/>
<rect x="1140" y="424" width="3" height="7" fill="#24e024"/>
<rect x="1149" y="421" width="1" height="26" fill="#000"/>
<rect x="1147" y="431" width="5" height="8" fill="#000"/>
<rect x="1148" y="432" width="3" height="6" fill="#24e024"/>
<rect x="1157" y="428" width="1" height="33" fill="#000"/>
<rect x="1155" y="437" width="5" height="1" fill="#000"/>
<rect x="1165" y="437" width="1" height="29" fill="#000"/>
<rect x="1163" y="437" width="5" height="28" fill="#000"/>
<rect x="1164" y="438" width="3" height="26" fill="#24e024"/>
<rect x="1173" y="469" width="1" height="28" fill="#000"/>
<rect x="1171" y="470" width="5" height="22" fill="#000"/>
<rect x="1172" y="471" width="3" height="20" fill="#24e024"/>
<rect x="1181" y="476" width="1" height="27" fill="#000"/>
<rect x="1179" y="491" width="5" height="1" fill="#000"/>
<rect x="1189" y="495" width="1" height="38" fill="#000"/>
<rect x="1187" y="495" width="5" height="29" fill="#000"/>
<rect x="1188" y="496" width="3" height="27" fill="#24e024"/>
<rect x="1197" y="513" width="1" height="35" fill="#000"/>
<rect x="1195" y="524" width="5" height="17" fill="#000"/>
<rect x="1196" y="525" width="3" height="15" fill="#24e024"/>
<rect x="1205" y="540" width="1" height="46" fill="#000"/>
<rect x="1203" y="569" width="5" height="2" fill="#000"/>
<rect x="1213" y="526" width="1" height="47" fill="#000"/>
<rect x="1211" y="546" width="5" height="26" fill="#000"/>
<rect x="1212" y="547" width="3" height="24" fill="#e11a1a"/>
<rect x="1221" y="536" width="1" height="41" fill="#000"/>
<rect x="1219" y="547" width="5" height="24" fill="#000"/>
<rect x="1220" y="548" width="3" height="22" fill="#24e024"/>
<rect x="1229" y="565" width="1" height="16" fill="#000"/>
<rect x="1227" y="570" width="5" height="4" fill="#000"/>
<rect x="1228" y="571" width="3" height="2" fill="#24e024"/>
<rect x="1237" y="500" width="1" height="59" fill="#000"/>
<rect x="1235" y="500" width="5" height="53" fill="#000"/>
<rect x="1236" y="501" width="3" height="51" fill="#e11a1a"/>
<rect x="1245" y="485" width="1" height="38" fill="#000"/>
<rect x="1243" y="501" width="5" height="21" fill="#000"/>
<rect x="1244" y="502" width="3" height="19" fill="#24e024"/>
<rect x="1253" y="491" width="1" height="36" fill="#000"/>
<rect x="1251" y="500" width="5" height="24" fill="#000"/>
<rect x="1252" y="501" width="3" height="22" fill="#e11a1a"/>
<rect x="1261" y="450" width="1" height="51" fill="#000"/>
<rect x="1259" y="451" width="5" height="50" fill="#000"/>
<rect x="1260" y="452" width="3" height="48" fill="#e11a1a"/>
<rect x="1269" y="446" width="1" height="26" fill="#000"/>
<rect x="1267" y="447" width="5" height="18" fill="#000"/>
<rect x="1268" y="448" width="3" height="16" fill="#e11a1a"/>
<rect x="1277" y="427" width="1" height="27" fill="#000"/>
<rect x="1275" y="434" width="5" height="15" fill="#000"/>
<rect x="1276" y="435" width="3" height="13" fill="#e11a1a"/>
<rect x="1285" y="395" width="1" height="44" fill="#000"/>
<rect x="1283" y="403" width="5" height="34" fill="#000"/>
<rect x="1284" y="404" width="3" height="32" fill="#e11a1a"/>
<rect x="1293" y="402" width="1" height="28" fill="#000"/>
<rect x="1291" y="402" width="5" height="23" fill="#000"/>
<rect x="1292" y="403" width="3" height="21" fill="#24e024"/>
</g>
<rect x="5" y="490" width="1627" height="3" fill="#000"/>
<g clip-path="url(#cd)">
<rect x="4" y="638" width="3" height="39" fill="#1fe31f"/>
<rect x="12" y="638" width="3" height="34" fill="#1fe31f"/>
<rect x="20" y="638" width="3" height="34" fill="#1fe31f"/>
<rect x="28" y="638" width="3" height="35" fill="#1fe31f"/>
<rect x="36" y="638" width="3" height="31" fill="#1fe31f"/>
<rect x="44" y="638" width="3" height="29" fill="#1fe31f"/>
<rect x="52" y="638" width="3" height="27" fill="#1fe31f"/>
<rect x="60" y="638" width="3" height="25" fill="#1fe31f"/>
<rect x="68" y="638" width="3" height="25" fill="#1fe31f"/>
<rect x="76" y="638" width="3" height="27" fill="#1fe31f"/>
<rect x="84" y="638" width="3" height="31" fill="#1fe31f"/>
<rect x="92" y="638" width="3" height="34" fill="#1fe31f"/>
<rect x="100" y="638" width="3" height="38" fill="#1fe31f"/>
<rect x="108" y="638" width="3" height="40" fill="#1fe31f"/>
<rect x="116" y="638" width="3" height="45" fill="#1fe31f"/>
<rect x="124" y="638" width="3" height="49" fill="#1fe31f"/>
<rect x="132" y="638" width="3" height="51" fill="#1fe31f"/>
<rect x="140" y="638" width="3" height="49" fill="#1fe31f"/>
<rect x="148" y="638" width="3" height="45" fill="#1fe31f"/>
<rect x="156" y="638" width="3" height="40" fill="#1fe31f"/>
<rect x="164" y="638" width="3" height="37" fill="#1fe31f"/>
<rect x="172" y="638" width="3" height="32" fill="#1fe31f"/>
<rect x="180" y="638" width="3" height="26" fill="#1fe31f"/>
<rect x="188" y="638" width="3" height="22" fill="#1fe31f"/>
<rect x="196" y="638" width="3" height="19" fill="#1fe31f"/>
<rect x="204" y="638" width="3" height="15" fill="#1fe31f"/>
<rect x="212" y="638" width="3" height="12" fill="#1fe31f"/>
<rect x="220" y="638" width="3" height="10" fill="#1fe31f"/>
<rect x="228" y="638" width="3" height="8" fill="#1fe31f"/>
<rect x="236" y="638" width="3" height="10" fill="#1fe31f"/>
<rect x="244" y="638" width="3" height="4" fill="#1fe31f"/>
<rect x="252" y="635" width="3" height="4" fill="#1fe31f"/>
<rect x="260" y="628" width="3" height="11" fill="#1fe31f"/>
<rect x="268" y="625" width="3" height="14" fill="#1fe31f"/>
<rect x="276" y="619" width="3" height="20" fill="#1fe31f"/>
<rect x="284" y="613" width="3" height="26" fill="#1fe31f"/>
<rect x="292" y="610" width="3" height="29" fill="#1fe31f"/>
<rect x="300" y="609" width="3" height="30" fill="#1fe31f"/>
<rect x="308" y="612" width="3" height="27" fill="#1fe31f"/>
<rect x="316" y="621" width="3" height="18" fill="#1fe31f"/>
<rect x="324" y="622" width="3" height="17" fill="#1fe31f"/>
<rect x="332" y="625" width="3" height="14" fill="#1fe31f"/>
<rect x="340" y="629" width="3" height="10" fill="#1fe31f"/>
<rect x="348" y="635" width="3" height="4" fill="#1fe31f"/>
<rect x="356" y="638" width="3" height="7" fill="#1fe31f"/>
<rect x="364" y="638" width="3" height="11" fill="#1fe31f"/>
<rect x="372" y="638" width="3" height="21" fill="#1fe31f"/>
<rect x="380" y="638" width="3" height="29" fill="#1fe31f"/>
<rect x="388" y="638" width="3" height="38" fill="#1fe31f"/>
<rect x="396" y="638" width="3" height="48" fill="#1fe31f"/>
<rect x="404" y="638" width="3" height="56" fill="#1fe31f"/>
<rect x="412" y="638" width="3" height="61" fill="#1fe31f"/>
<rect x="420" y="638" width="3" height="66" fill="#1fe31f"/>
<rect x="428" y="638" width="3" height="69" fill="#1fe31f"/>
<rect x="436" y="638" width="3" height="66" fill="#1fe31f"/>
<rect x="444" y="638" width="3" height="65" fill="#1fe31f"/>
<rect x="452" y="638" width="3" height="65" fill="#1fe31f"/>
<rect x="460" y="638" width="3" height="64" fill="#1fe31f"/>
<rect x="468" y="638" width="3" height="67" fill="#1fe31f"/>
<rect x="476" y="638" width="3" height="71" fill="#1fe31f"/>
<rect x="484" y="638" width="3" height="66" fill="#1fe31f"/>
<rect x="492" y="638" width="3" height="67" fill="#1fe31f"/>
<rect x="500" y="638" width="3" height="72" fill="#1fe31f"/>
<rect x="508" y="638" width="3" height="73" fill="#1fe31f"/>
<rect x="516" y="638" width="3" height="75" fill="#1fe31f"/>
<rect x="524" y="638" width="3" height="74" fill="#1fe31f"/>
<rect x="532" y="638" width="3" height="76" fill="#1fe31f"/>
<rect x="540" y="638" width="3" height="79" fill="#1fe31f"/>
<rect x="548" y="638" width="3" height="76" fill="#1fe31f"/>
<rect x="556" y="638" width="3" height="72" fill="#1fe31f"/>
<rect x="564" y="638" width="3" height="66" fill="#1fe31f"/>
<rect x="572" y="638" width="3" height="61" fill="#1fe31f"/>
<rect x="580" y="638" width="3" height="59" fill="#1fe31f"/>
<rect x="588" y="638" width="3" height="60" fill="#1fe31f"/>
<rect x="596" y="638" width="3" height="59" fill="#1fe31f"/>
<rect x="604" y="638" width="3" height="56" fill="#1fe31f"/>
<rect x="612" y="638" width="3" height="51" fill="#1fe31f"/>
<rect x="620" y="638" width="3" height="44" fill="#1fe31f"/>
<rect x="628" y="638" width="3" height="42" fill="#1fe31f"/>
<rect x="636" y="638" width="3" height="40" fill="#1fe31f"/>
<rect x="644" y="638" width="3" height="40" fill="#1fe31f"/>
<rect x="652" y="638" width="3" height="40" fill="#1fe31f"/>
<rect x="660" y="638" width="3" height="38" fill="#1fe31f"/>
<rect x="668" y="638" width="3" height="37" fill="#1fe31f"/>
<rect x="676" y="638" width="3" height="37" fill="#1fe31f"/>
<rect x="684" y="638" width="3" height="37" fill="#1fe31f"/>
<rect x="692" y="638" width="3" height="36" fill="#1fe31f"/>
<rect x="700" y="638" width="3" height="36" fill="#1fe31f"/>
<rect x="708" y="638" width="3" height="37" fill="#1fe31f"/>
<rect x="716" y="638" width="3" height="39" fill="#1fe31f"/>
<rect x="724" y="638" width="3" height="47" fill="#1fe31f"/>
<rect x="732" y="638" width="3" height="52" fill="#1fe31f"/>
<rect x="740" y="638" width="3" height="58" fill="#1fe31f"/>
<rect x="748" y="638" width="3" height="64" fill="#1fe31f"/>
<rect x="756" y="638" width="3" height="72" fill="#1fe31f"/>
<rect x="764" y="638" width="3" height="72" fill="#1fe31f"/>
<rect x="772" y="638" width="3" height="72" fill="#1fe31f"/>
<rect x="780" y="638" width="3" height="72" fill="#1fe31f"/>
<rect x="788" y="638" width="3" height="79" fill="#1fe31f"/>
<rect x="796" y="638" width="3" height="83" fill="#1fe31f"/>
<rect x="804" y="638" width="3" height="78" fill="#1fe31f"/>
<rect x="812" y="638" width="3" height="65" fill="#1fe31f"/>
<rect x="820" y="638" width="3" height="61" fill="#1fe31f"/>
<rect x="828" y="638" width="3" height="54" fill="#1fe31f"/>
<rect x="836" y="638" width="3" height="47" fill="#1fe31f"/>
<rect x="844" y="638" width="3" height="44" fill="#1fe31f"/>
<rect x="852" y="638" width="3" height="31" fill="#1fe31f"/>
<rect x="860" y="638" width="3" height="19" fill="#1fe31f"/>
<rect x="868" y="638" width="3" height="8" fill="#1fe31f"/>
<rect x="876" y="638" width="3" height="1" fill="#1fe31f"/>
<rect x="884" y="634" width="3" height="5" fill="#1fe31f"/>
<rect x="892" y="630" width="3" height="9" fill="#1fe31f"/>
<rect x="900" y="626" width="3" height="13" fill="#1fe31f"/>
<rect x="908" y="622" width="3" height="17" fill="#1fe31f"/>
<rect x="916" y="619" width="3" height="20" fill="#1fe31f"/>
<rect x="924" y="617" width="3" height="22" fill="#1fe31f"/>
<rect x="932" y="616" width="3" height="23" fill="#1fe31f"/>
<rect x="940" y="617" width="3" height="22" fill="#1fe31f"/>
<rect x="948" y="619" width="3" height="20" fill="#1fe31f"/>
<rect x="956" y="624" width="3" height="15" fill="#1fe31f"/>
<rect x="964" y="629" width="3" height="10" fill="#1fe31f"/>
<rect x="972" y="636" width="3" height="3" fill="#1fe31f"/>
<rect x="980" y="638" width="3" height="8" fill="#1fe31f"/>
<rect x="988" y="638" width="3" height="16" fill="#1fe31f"/>
<rect x="996" y="638" width="3" height="19" fill="#1fe31f"/>
<rect x="1004" y="638" width="3" height="22" fill="#1fe31f"/>
<rect x="1012" y="638" width="3" height="25" fill="#1fe31f"/>
<rect x="1020" y="638" width="3" height="26" fill="#1fe31f"/>
<rect x="1028" y="638" width="3" height="29" fill="#1fe31f"/>
<rect x="1036" y="638" width="3" height="32" fill="#1fe31f"/>
<rect x="1044" y="638" width="3" height="40" fill="#1fe31f"/>
<rect x="1052" y="638" width="3" height="49" fill="#1fe31f"/>
<rect x="1060" y="638" width="3" height="61" fill="#1fe31f"/>
<rect x="1068" y="638" width="3" height="69" fill="#1fe31f"/>
<rect x="1076" y="638" width="3" height="76" fill="#1fe31f"/>
<rect x="1084" y="638" width="3" height="72" fill="#1fe31f"/>
<rect x="1092" y="638" width="3" height="75" fill="#1fe31f"/>
<rect x="1100" y="638" width="3" height="77" fill="#1fe31f"/>
<rect x="1108" y="638" width="3" height="69" fill="#1fe31f"/>
<rect x="1116" y="638" width="3" height="61" fill="#1fe31f"/>
<rect x="1124" y="638" width="3" height="62" fill="#1fe31f"/>
<rect x="1132" y="638" width="3" height="60" fill="#1fe31f"/>
<rect x="1140" y="638" width="3" height="55" fill="#1fe31f"/>
<rect x="1148" y="638" width="3" height="53" fill="#1fe31f"/>
<rect x="1156" y="638" width="3" height="51" fill="#1fe31f"/>
<rect x="1164" y="638" width="3" height="52" fill="#1fe31f"/>
<rect x="1172" y="638" width="3" height="56" fill="#1fe31f"/>
<rect x="1180" y="638" width="3" height="60" fill="#1fe31f"/>
<rect x="1188" y="638" width="3" height="68" fill="#1fe31f"/>
<rect x="1196" y="638" width="3" height="75" fill="#1fe31f"/>
<rect x="1204" y="638" width="3" height="86" fill="#1fe31f"/>
<rect x="1212" y="638" width="3" height="88" fill="#1fe31f"/>
<rect x="1220" y="638" width="3" height="94" fill="#1fe31f"/>
<rect x="1228" y="638" width="3" height="98" fill="#1fe31f"/>
<rect x="1236" y="638" width="3" height="87" fill="#1fe31f"/>
<rect x="1244" y="638" width="3" height="80" fill="#1fe31f"/>
<rect x="1252" y="638" width="3" height="72" fill="#1fe31f"/>
<rect x="1260" y="638" width="3" height="57" fill="#1fe31f"/>
<rect x="1268" y="638" width="3" height="44" fill="#1fe31f"/>
<rect x="1276" y="638" width="3" height="29" fill="#1fe31f"/>
<rect x="1284" y="638" width="3" height="14" fill="#1fe31f"/>
<rect x="1292" y="638" width="3" height="5" fill="#1fe31f"/>
</g>
</g>
<g clip-path="url(#cd)"><path d="M5,672 C9.1,672.4 18.7,674.8 29.4,674.3 C40.1,673.8 59.7,670.4 69,669.2 C78.3,668.0 79.7,667.6 85,667.3 C90.3,667.0 95.7,666.7 101,667.3 C106.3,667.9 111.7,669.7 117,671.1 C122.3,672.5 127.7,674.2 133,675.8 C138.3,677.4 145.0,679.6 149,680.6 C153.0,681.6 153.0,681.4 157,681.5 C161.0,681.6 169.0,681.8 173,681.5 C177.0,681.2 177.0,680.8 181,679.6 C185.0,678.4 191.7,676.7 197,674.3 C202.3,671.9 207.6,668.2 213,665.4 C218.4,662.6 224.1,659.8 229.4,657.5 C234.7,655.2 239.7,653.4 245,651.5 C250.3,649.6 255.2,648.6 261.5,646 C267.8,643.4 277.4,638.5 282.7,636 C288.0,633.5 289.1,633.1 293.5,630.8 C297.9,628.5 303.6,624.2 308.9,622 C314.2,619.8 319.8,618.1 325.4,617.3 C331.0,616.5 336.6,616.1 342.4,617.3 C348.2,618.5 355.0,621.9 360,624.4 C365.0,626.9 368.8,629.7 372.5,632.2 C376.2,634.7 377.8,635.8 382,639.2 C386.2,642.6 392.4,647.9 397.6,652.5 C402.8,657.1 408.1,661.9 413.3,666.7 C418.5,671.6 423.8,677.3 429,681.6 C434.2,685.9 439.5,689.6 444.7,692.5 C449.9,695.4 455.2,697.1 460.4,698.8 C465.6,700.5 470.8,701.8 476,702.7 C481.2,703.6 486.3,703.9 491.8,704.3 C497.3,704.7 503.5,704.5 509,705.2 C514.5,705.9 519.7,707.6 525,708.4 C530.3,709.2 536.0,709.4 541,709.9 C546.0,710.4 551.0,711.1 555,711.4 C559.0,711.6 560.7,712.0 565,711.4 C569.3,710.8 574.3,709.4 581,708 C587.7,706.6 598.3,705.2 605,703.3 C611.7,701.4 615.7,698.9 621,696.7 C626.3,694.5 631.7,691.9 637,690 C642.3,688.1 647.7,687.0 653,685.3 C658.3,683.6 663.7,681.4 669,680 C674.3,678.6 679.7,677.4 685,676.8 C690.3,676.2 694.3,676.2 701,676.2 C707.7,676.2 718.3,675.9 725,676.8 C731.7,677.7 735.7,679.6 741,681.5 C746.3,683.4 751.7,685.6 757,688.1 C762.3,690.6 767.7,694.1 773,696.7 C778.3,699.3 783.7,701.7 789,703.9 C794.3,706.1 801.0,708.6 805,709.9 C809.0,711.1 810.3,711.3 813,711.4 C815.7,711.5 818.2,710.9 821,710.3 C823.8,709.7 827.3,708.9 830,708 C832.7,707.1 833.5,706.6 837.3,704.8 C841.1,703.0 847.5,701.0 852.9,697.3 C858.2,693.6 863.9,687.9 869.4,682.4 C874.9,676.9 880.5,669.5 885.9,664.3 C891.3,659.1 896.4,655.5 901.6,651 C906.8,646.5 912.1,641.5 917.3,637.6 C922.5,633.7 927.7,630.1 932.9,627.5 C938.1,624.9 943.2,623.0 948.6,622 C954.0,621.0 959.4,620.6 965,621.2 C970.6,621.9 976.6,623.8 982,625.9 C987.4,628.0 992.4,630.7 997.6,633.7 C1002.8,636.7 1008.1,640.8 1013.3,643.9 C1018.5,647.0 1023.8,649.6 1029,652.5 C1034.2,655.4 1039.5,658.1 1044.7,661.2 C1049.9,664.4 1055.2,667.6 1060.4,671.4 C1065.6,675.2 1070.8,680.2 1076,683.9 C1081.2,687.6 1087.8,691.4 1091.8,693.8 C1095.8,696.1 1095.8,696.1 1100,698 C1104.2,699.9 1112.0,703.7 1117,705.2 C1122.0,706.7 1124.7,707.4 1130,707.1 C1135.3,706.8 1144.0,704.6 1149,703.3 C1154.0,702.0 1156.1,700.4 1160,699.2 C1163.9,698.0 1168.8,696.9 1172.5,696.1 C1176.2,695.3 1177.8,694.3 1182,694.5 C1186.2,694.7 1192.4,695.8 1197.6,697.2 C1202.8,698.6 1208.1,700.6 1213.3,703.1 C1218.5,705.6 1223.8,709.8 1229,712.5 C1234.2,715.2 1240.5,717.6 1244.7,719.1 C1248.9,720.6 1250.1,721.5 1254,721.2 C1257.9,720.9 1263.2,720.3 1268.2,717.3 C1273.2,714.3 1279.7,707.3 1284,703.1 C1288.3,698.9 1292.3,694.0 1294,692.2" fill="none" stroke="#e40c0c" stroke-width="3.3" stroke-linejoin="round" stroke-linecap="round"/></g>
<g shape-rendering="crispEdges" fill="#000">
<rect x="4" y="4" width="1580" height="1"/>
<rect x="4" y="4" width="1" height="596"/>
<rect x="4" y="599" width="1629" height="1"/>
<rect x="1632" y="6" width="1" height="594"/>
<rect x="4" y="601" width="1629" height="1"/>
<rect x="4" y="601" width="1" height="142"/>
<rect x="4" y="742" width="1629" height="1"/>
<rect x="1632" y="601" width="1" height="142"/>
<rect x="5" y="743" width="1" height="3"/>
<rect x="69" y="743" width="1" height="3"/>
<rect x="133" y="743" width="1" height="3"/>
<rect x="197" y="743" width="1" height="3"/>
<rect x="261" y="743" width="1" height="3"/>
<rect x="325" y="743" width="1" height="3"/>
<rect x="389" y="743" width="1" height="3"/>
<rect x="453" y="743" width="1" height="3"/>
<rect x="517" y="743" width="1" height="3"/>
<rect x="581" y="743" width="1" height="3"/>
<rect x="645" y="743" width="1" height="3"/>
<rect x="709" y="743" width="1" height="3"/>
<rect x="773" y="743" width="1" height="3"/>
<rect x="837" y="743" width="1" height="3"/>
<rect x="901" y="743" width="1" height="3"/>
<rect x="965" y="743" width="1" height="3"/>
<rect x="1029" y="743" width="1" height="3"/>
<rect x="1093" y="743" width="1" height="3"/>
<rect x="1157" y="743" width="1" height="3"/>
<rect x="1221" y="743" width="1" height="3"/>
<rect x="1285" y="743" width="1" height="3"/>
<rect x="1633" y="35" width="3" height="1"/>
<rect x="1633" y="68" width="3" height="1"/>
<rect x="1633" y="101" width="3" height="1"/>
<rect x="1633" y="134" width="3" height="1"/>
<rect x="1633" y="167" width="3" height="1"/>
<rect x="1633" y="200" width="3" height="1"/>
<rect x="1633" y="233" width="3" height="1"/>
<rect x="1633" y="266" width="3" height="1"/>
<rect x="1633" y="299" width="3" height="1"/>
<rect x="1633" y="332" width="3" height="1"/>
<rect x="1633" y="365" width="3" height="1"/>
<rect x="1633" y="398" width="3" height="1"/>
<rect x="1633" y="431" width="3" height="1"/>
<rect x="1633" y="464" width="3" height="1"/>
<rect x="1633" y="497" width="3" height="1"/>
<rect x="1633" y="530" width="3" height="1"/>
<rect x="1633" y="563" width="3" height="1"/>
<rect x="1633" y="596" width="3" height="1"/>
<rect x="1633" y="638" width="3" height="1"/>
<rect x="1633" y="603" width="3" height="1"/>
<rect x="1633" y="741" width="3" height="1"/>
</g>
<path d="M1289,488 Q1309,418 1334.5,336" fill="none" stroke="#f21212" stroke-width="6" stroke-linecap="round"/>
<path d="M1344.3,304.5 L1322.5,336 L1346,342.5 Z" fill="#f21212"/>
<path d="M1301,5 L1310,5 L1305.5,10 Z" fill="#6d7783"/>
<path d="M8,11 L15,11 L11.5,15 Z" fill="#111"/>
<text x="20" y="16" style="font-size:9.5px">CHINA300-,H1</text>
<text x="91" y="16" style="font-size:9px;letter-spacing:0.1px">3704.0 3704.2 3672.0 3678.8</text>
<text x="9" y="614" style="font-size:9.5px">MACD(12,26,9) -2.11 -29.95</text>
<text x="5" y="755" style="font-size:9.3px">30 Aug 2022</text>
<text x="69" y="755" style="font-size:9.3px">1 Sep 05:00</text>
<text x="133" y="755" style="font-size:9.3px">5 Sep 05:00</text>
<text x="197" y="755" style="font-size:9.3px">7 Sep 05:00</text>
<text x="261" y="755" style="font-size:9.3px">9 Sep 05:00</text>
<text x="325" y="755" style="font-size:9.3px">14 Sep 05:00</text>
<text x="389" y="755" style="font-size:9.3px">16 Sep 05:00</text>
<text x="453" y="755" style="font-size:9.3px">20 Sep 05:00</text>
<text x="517" y="755" style="font-size:9.3px">22 Sep 05:00</text>
<text x="581" y="755" style="font-size:9.3px">26 Sep 05:00</text>
<text x="645" y="755" style="font-size:9.3px">28 Sep 05:00</text>
<text x="709" y="755" style="font-size:9.3px">30 Sep 05:00</text>
<text x="773" y="755" style="font-size:9.3px">11 Oct 05:00</text>
<text x="837" y="755" style="font-size:9.3px">13 Oct 05:00</text>
<text x="901" y="755" style="font-size:9.3px">17 Oct 05:00</text>
<text x="965" y="755" style="font-size:9.3px">19 Oct 05:00</text>
<text x="1029" y="755" style="font-size:9.3px">21 Oct 05:00</text>
<text x="1093" y="755" style="font-size:9.3px">25 Oct 05:00</text>
<text x="1157" y="755" style="font-size:9.3px">27 Oct 05:00</text>
<text x="1221" y="755" style="font-size:9.3px">31 Oct 05:00</text>
<text x="1285" y="755" style="font-size:9.3px">2 Nov 05:00</text>
<g clip-path="url(#ca)">
<text x="1638" y="39">4132.0</text>
<text x="1638" y="72">4093.0</text>
<text x="1638" y="105">4055.0</text>
<text x="1638" y="138">4016.0</text>
<text x="1638" y="171">3978.0</text>
<text x="1638" y="204">3939.0</text>
<text x="1638" y="237">3901.0</text>
<text x="1638" y="270">3862.0</text>
<text x="1638" y="303">3824.0</text>
<text x="1638" y="336">3785.0</text>
<text x="1638" y="369">3747.0</text>
<text x="1638" y="402">3709.0</text>
<text x="1638" y="435">3670.0</text>
<text x="1638" y="468">3632.0</text>
<text x="1638" y="501">3593.0</text>
<text x="1638" y="534">3555.0</text>
<text x="1638" y="567">3516.0</text>
<text x="1638" y="600">3478.0</text>
<text x="1637" y="612">20.07</text>
<text x="1637" y="642">0.00</text>
<text x="1636" y="739">-57.78</text>
</g>
<g shape-rendering="crispEdges">
<rect x="1634" y="419" width="36" height="11" fill="#000"/>
<rect x="1634" y="485" width="36" height="11" fill="#000"/>
</g>
<g clip-path="url(#ca)">
<text x="1638" y="428" style="fill:#fff;stroke:#fff">3678.8</text>
<text x="1638" y="494" style="fill:#fff;stroke:#fff">3600.6</text>
</g>
<g shape-rendering="crispEdges">
<rect x="1664" y="0" width="1" height="765" fill="#c9b52a"/>
<rect x="1665" y="0" width="3" height="765" fill="#f4ea98"/>
</g>
<g shape-rendering="crispEdges">
<defs><linearGradient id="sh" x1="0" y1="0" x2="0" y2="1"><stop offset="0" stop-color="#000" stop-opacity="0.14"/><stop offset="1" stop-color="#000" stop-opacity="0"/></linearGradient></defs>
<rect x="1582" y="7" width="56" height="8" fill="url(#sh)"/>
<rect x="1584" y="0" width="52" height="7" fill="#6e6e6e"/>
<rect x="1585" y="0" width="50" height="4" fill="#fbfbfb"/>
</g>
<rect x="1598" y="0" width="2" height="1" fill="#000"/><rect x="1604" y="0" width="2" height="1" fill="#000"/><rect x="1609" y="0" width="2" height="1" fill="#000"/><rect x="1614" y="0" width="2" height="1" fill="#000"/><rect x="1619" y="0" width="2" height="1" fill="#000"/>
</svg></body></html>
